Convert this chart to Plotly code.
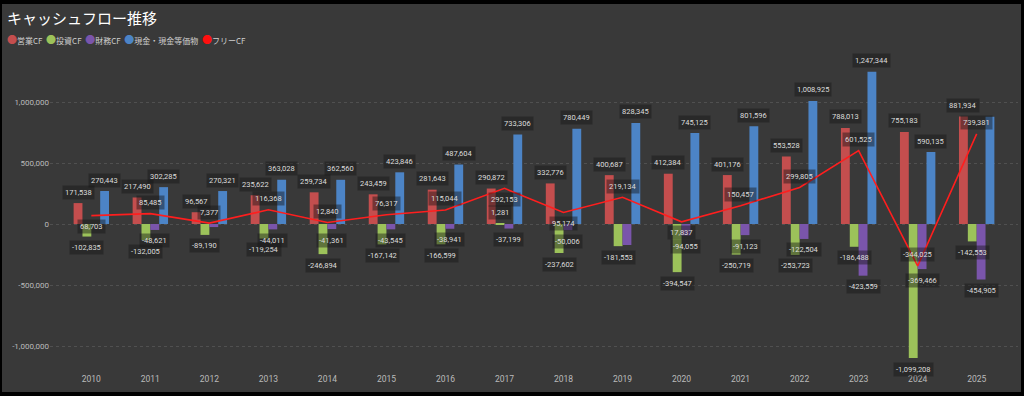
import plotly.graph_objects as go

# ---------------- data ----------------
years = list(range(2010, 2026))
operating_cf = [171538, 217490, 96567, 235622, 259734, 243459, 281643, 290872,
                332776, 400687, 412384, 401176, 553528, 788013, 755183, 881934]
investing_cf = [-102835, -132005, -89190, -119254, -246894, -167142, -166599, 1281,
                -237602, -181553, -394547, -250719, -253723, -186488, -1099208, -142553]
financing_cf = [None, -48621, -25000, -44011, -41361, -43545, -38941, -37199,
                -50006, -172000, -94055, -91123, -122504, -423559, -369466, -454905]
cash_equiv = [270443, 302285, 270321, 363028, 362560, 423846, 487604, 733306,
              780449, 828345, 745125, 801596, 1008925, 1247344, 590135, 880000]
free_cf = [68703, 85485, 7377, 116368, 12840, 76317, 115044, 292153,
           95174, 219134, 17837, 150457, 299805, 601525, -344025, 739381]

series_names = ["営業CF", "投資CF", "財務CF", "現金・現金等価物"]
line_name = "フリーCF"
y_tickvals = [-1000000, -500000, 0, 500000, 1000000]
y_ticktext = ["-1,000,000", "-500,000", "0", "500,000", "1,000,000"]
title_text = "キャッシュフロー推移"

# ---------------- style ----------------
W, H = 1024, 396
ML, MR, MT, MB = 50, 6, 52, 24
BG = "#393939"
colors = ["#c44e4e", "#9cc25a", "#7a55ab", "#4c84c6"]
line_color = "#ff1e1e"
label_font = dict(family="Roboto, DejaVu Sans", size=7.5, color="#dddddd")
label_bg = "rgba(22,22,22,0.45)"
BARGAP = 0.4
# labels that are not shown in the original (overlap-hidden)
hidden_labels = {(2, 2012), (2, 2019), (3, 2025)}
fcf_label_below = {2010, 2017, 2018, 2020}

bars = [operating_cf, investing_cf, financing_cf, cash_equiv]

fig = go.Figure()
for i, (name, vals) in enumerate(zip(series_names, bars)):
    fig.add_trace(go.Bar(x=years, y=vals, name=name, marker_color=colors[i],
                         marker_line_width=0, showlegend=False))
fig.add_trace(go.Scatter(x=years, y=free_cf, name=line_name, mode="lines",
                         line=dict(color=line_color, width=1.6), showlegend=False))

# data labels
annotations = []
bw = (1 - BARGAP) / len(bars)
for i, vals in enumerate(bars):
    off = (i - (len(bars) - 1) / 2) * bw
    for yr, v in zip(years, vals):
        if v is None or (i, yr) in hidden_labels:
            continue
        annotations.append(dict(x=yr + off, y=v, xref="x", yref="y", text=f"{v:,}",
                                showarrow=False, yshift=11 if v >= 0 else -11,
                                font=label_font, bgcolor=label_bg, borderpad=2))
for yr, v in zip(years, free_cf):
    below = yr in fcf_label_below
    annotations.append(dict(x=yr, y=v, xref="x", yref="y", text=f"{v:,}",
                            showarrow=False, yshift=-11 if below else 11,
                            font=label_font, bgcolor=label_bg, borderpad=2))

# helpers to convert pixels to paper coords
pw, ph = W - ML - MR, H - MT - MB
def px_x(p):
    return (p - ML) / pw
def px_y(p):
    return (H - MB - p) / ph

# legend as rich text
legend_parts = []
for name, c in zip(series_names + [line_name], colors + ["#ff1010"]):
    legend_parts.append(f"<span style='color:{c}; font-size:10px'>●</span>{name}")
annotations.append(dict(x=px_x(5), y=px_y(40), xref="paper", yref="paper",
                        xanchor="left", yanchor="middle", showarrow=False,
                        text="  ".join(legend_parts),
                        font=dict(family="Noto Sans CJK JP", size=8, color="#cfcfcf")))
annotations.append(dict(x=px_x(5), y=px_y(17), xref="paper", yref="paper",
                        xanchor="left", yanchor="middle", showarrow=False,
                        text=title_text,
                        font=dict(family="Noto Sans CJK JP", size=15, color="#ffffff")))

shapes = [dict(type="rect", xref="paper", yref="paper", layer="below",
               x0=px_x(2), x1=px_x(1021), y0=px_y(392), y1=px_y(4),
               fillcolor=BG, line_width=0)]

fig.update_layout(
    width=W, height=H,
    margin=dict(l=ML, r=MR, t=MT, b=MB),
    paper_bgcolor="#000000", plot_bgcolor="rgba(0,0,0,0)",
    barmode="group", bargap=BARGAP, bargroupgap=0,
    annotations=annotations, shapes=shapes,
    xaxis=dict(range=[2009.3, 2025.7], tickvals=years, ticktext=[str(y) for y in years],
               showgrid=False, zeroline=False, showline=False, ticks="",
               tickfont=dict(family="Roboto, DejaVu Sans", size=8.5, color="#bbbbbb")),
    yaxis=dict(range=[-1213000, 1410000], tickvals=y_tickvals, ticktext=y_ticktext,
               showgrid=True, gridcolor="#505050", griddash="dot", gridwidth=1,
               zeroline=False, showline=False, ticks="",
               tickfont=dict(family="Roboto, DejaVu Sans", size=8, color="#bbbbbb")),
    showlegend=False,
)

fig.write_html("out.html", config={"displayModeBar": False},
               post_script="document.body.style.margin='0';document.body.style.overflow='hidden';")
